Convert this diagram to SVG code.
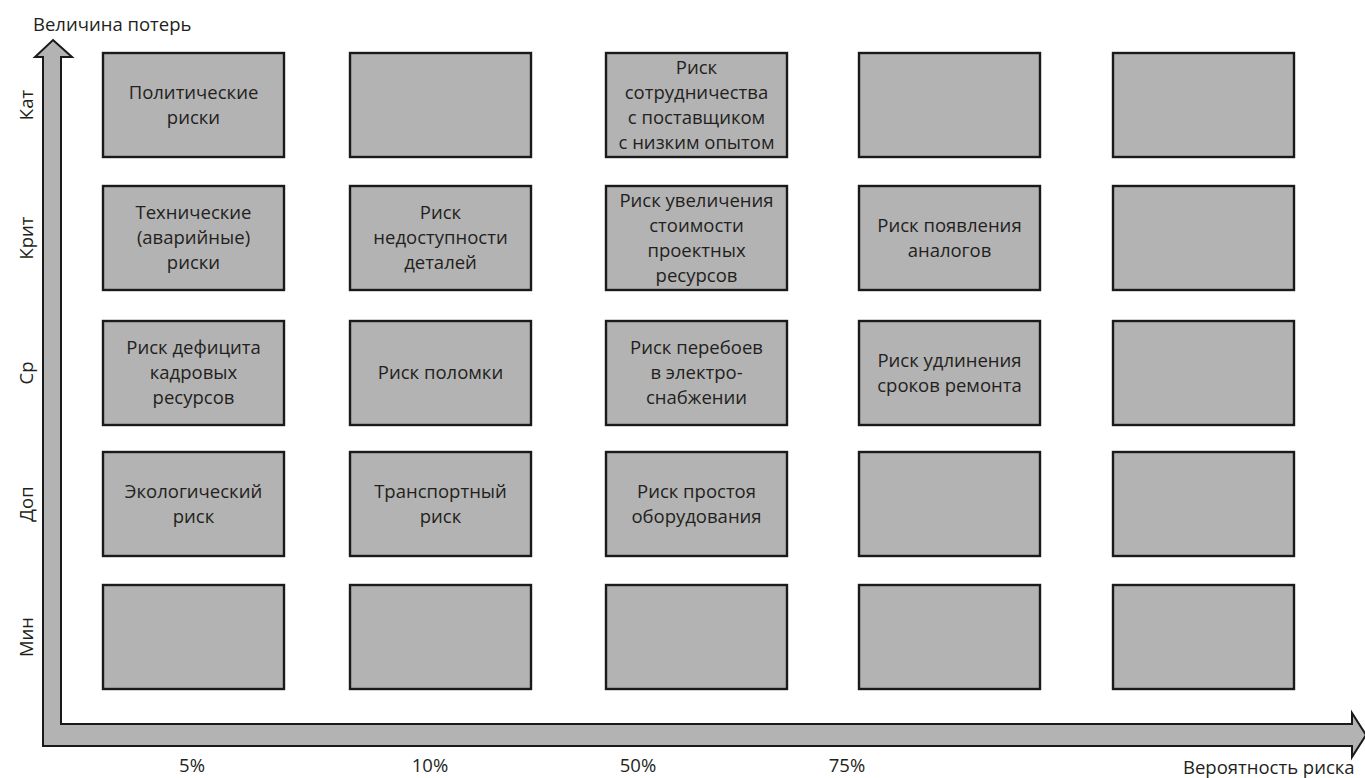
<svg xmlns="http://www.w3.org/2000/svg" width="1365" height="778" viewBox="0 0 1365 778">
<style>
.box{fill:#b3b3b3;stroke:#1a1a1a;stroke-width:2.4}
.t{font-family:"Open Sans","Noto Sans","Liberation Sans",sans-serif;font-size:18.5px;fill:#231f20;text-anchor:middle}
.ax{font-family:"Open Sans","Noto Sans","Liberation Sans",sans-serif;font-size:18.5px;fill:#231f20}
</style>
<rect width="1365" height="778" fill="#ffffff"/>
<g id="axes">
<polygon points="53,40 72,57 61,57 61,724 1352,724 1352,713 1366,735 1352,757 1352,746 43,746 43,57 35,57" fill="#b3b3b3" stroke="#1a1a1a" stroke-width="2" stroke-linejoin="miter"/>
</g>
<g id="axis-labels">
<text class="ax" x="33" y="31">Величина потерь</text>
<text class="ax" x="1183" y="774">Вероятность риска</text>
<text class="ax" text-anchor="middle" x="192" y="772">5%</text>
<text class="ax" text-anchor="middle" x="430" y="772">10%</text>
<text class="ax" text-anchor="middle" x="638" y="772">50%</text>
<text class="ax" text-anchor="middle" x="847" y="772">75%</text>
<text class="ax" text-anchor="middle" transform="translate(33,105) rotate(-90)">Кат</text>
<text class="ax" text-anchor="middle" transform="translate(33,238) rotate(-90)">Крит</text>
<text class="ax" text-anchor="middle" transform="translate(33,373) rotate(-90)">Ср</text>
<text class="ax" text-anchor="middle" transform="translate(33,504) rotate(-90)">Доп</text>
<text class="ax" text-anchor="middle" transform="translate(33,637) rotate(-90)">Мин</text>
</g>
<g id="r1c1"><rect class="box" x="103" y="53" width="181" height="104"/><text class="t"><tspan x="193.5" y="98.5">Политические</tspan><tspan x="193.5" y="123.5">риски</tspan></text></g>
<g id="r1c2"><rect class="box" x="350" y="53" width="181" height="104"/></g>
<g id="r1c3"><rect class="box" x="606" y="53" width="181" height="104"/><text class="t"><tspan x="696.5" y="73.5">Риск</tspan><tspan x="696.5" y="98.5">сотрудничества</tspan><tspan x="696.5" y="123.5">с поставщиком</tspan><tspan x="696.5" y="148.5">с низким опытом</tspan></text></g>
<g id="r1c4"><rect class="box" x="859" y="53" width="181" height="104"/></g>
<g id="r1c5"><rect class="box" x="1113" y="53" width="181" height="104"/></g>

<g id="r2c1"><rect class="box" x="103" y="186" width="181" height="104"/><text class="t"><tspan x="193.5" y="219">Технические</tspan><tspan x="193.5" y="244">(аварийные)</tspan><tspan x="193.5" y="269">риски</tspan></text></g>
<g id="r2c2"><rect class="box" x="350" y="186" width="181" height="104"/><text class="t"><tspan x="440.5" y="219">Риск</tspan><tspan x="440.5" y="244">недоступности</tspan><tspan x="440.5" y="269">деталей</tspan></text></g>
<g id="r2c3"><rect class="box" x="606" y="186" width="181" height="104"/><text class="t"><tspan x="696.5" y="206.5">Риск увеличения</tspan><tspan x="696.5" y="231.5">стоимости</tspan><tspan x="696.5" y="256.5">проектных</tspan><tspan x="696.5" y="281.5">ресурсов</tspan></text></g>
<g id="r2c4"><rect class="box" x="859" y="186" width="181" height="104"/><text class="t"><tspan x="949.5" y="231.5">Риск появления</tspan><tspan x="949.5" y="256.5">аналогов</tspan></text></g>
<g id="r2c5"><rect class="box" x="1113" y="186" width="181" height="104"/></g>

<g id="r3c1"><rect class="box" x="103" y="321" width="181" height="104"/><text class="t"><tspan x="193.5" y="354">Риск дефицита</tspan><tspan x="193.5" y="379">кадровых</tspan><tspan x="193.5" y="404">ресурсов</tspan></text></g>
<g id="r3c2"><rect class="box" x="350" y="321" width="181" height="104"/><text class="t" x="440.5" y="379">Риск поломки</text></g>
<g id="r3c3"><rect class="box" x="606" y="321" width="181" height="104"/><text class="t"><tspan x="696.5" y="354">Риск перебоев</tspan><tspan x="696.5" y="379">в электро-</tspan><tspan x="696.5" y="404">снабжении</tspan></text></g>
<g id="r3c4"><rect class="box" x="859" y="321" width="181" height="104"/><text class="t"><tspan x="949.5" y="366.5">Риск удлинения</tspan><tspan x="949.5" y="391.5">сроков ремонта</tspan></text></g>
<g id="r3c5"><rect class="box" x="1113" y="321" width="181" height="104"/></g>

<g id="r4c1"><rect class="box" x="103" y="452" width="181" height="104"/><text class="t"><tspan x="193.5" y="497.5">Экологический</tspan><tspan x="193.5" y="522.5">риск</tspan></text></g>
<g id="r4c2"><rect class="box" x="350" y="452" width="181" height="104"/><text class="t"><tspan x="440.5" y="497.5">Транспортный</tspan><tspan x="440.5" y="522.5">риск</tspan></text></g>
<g id="r4c3"><rect class="box" x="606" y="452" width="181" height="104"/><text class="t"><tspan x="696.5" y="497.5">Риск простоя</tspan><tspan x="696.5" y="522.5">оборудования</tspan></text></g>
<g id="r4c4"><rect class="box" x="859" y="452" width="181" height="104"/></g>
<g id="r4c5"><rect class="box" x="1113" y="452" width="181" height="104"/></g>

<g id="r5c1"><rect class="box" x="103" y="585" width="181" height="104"/></g>
<g id="r5c2"><rect class="box" x="350" y="585" width="181" height="104"/></g>
<g id="r5c3"><rect class="box" x="606" y="585" width="181" height="104"/></g>
<g id="r5c4"><rect class="box" x="859" y="585" width="181" height="104"/></g>
<g id="r5c5"><rect class="box" x="1113" y="585" width="181" height="104"/></g>
</svg>
